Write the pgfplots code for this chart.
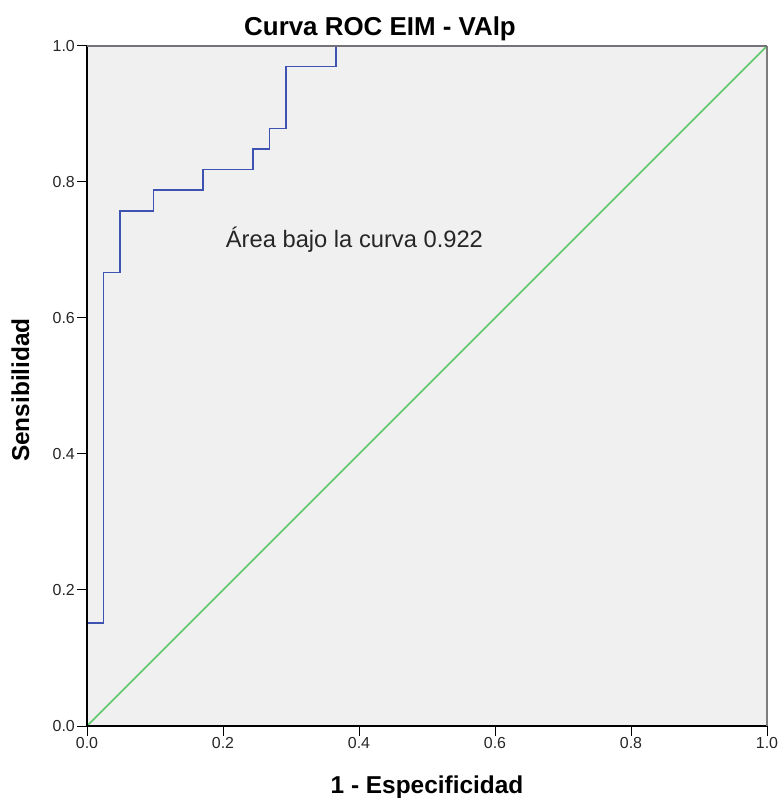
\documentclass[border=0pt]{standalone}
\usepackage{pgfplots}
\pgfplotsset{compat=1.18}
\usepackage{fontspec}
\setmainfont{Liberation Sans}
\definecolor{rocblue}{RGB}{62,82,178}
\definecolor{refgreen}{RGB}{95,200,105}
\definecolor{plotbg}{RGB}{240,240,240}
\definecolor{frametop}{RGB}{115,115,120}
\definecolor{frameright}{RGB}{125,125,125}
\begin{document}
\begin{tikzpicture}
\useasboundingbox (-87bp,-72bp) rectangle (691bp,726bp);
\begin{axis}[
  scale only axis,
  width=680bp, height=680bp,
  at={(0,0)}, anchor=south west,
  xmin=0, xmax=1, ymin=0, ymax=1,
  xtick={0,0.2,0.4,0.6,0.8,1.0},
  ytick={0,0.2,0.4,0.6,0.8,1.0},
  xtick pos=left, ytick pos=left,
  tick align=outside,
  major tick length=10bp,
  tick style={black, line width=1bp},
  axis line style={draw=none},
  axis background/.style={fill=plotbg},
  /pgf/number format/assume math mode=true,
  xticklabel={\pgfmathprintnumber[fixed,fixed zerofill,precision=1]{\tick}},
  yticklabel={\pgfmathprintnumber[fixed,fixed zerofill,precision=1]{\tick}},
  ticklabel style={font=\fontsize{16}{16}\selectfont, text=black!85},
  xticklabel style={inner sep=1bp},
  yticklabel style={inner sep=2bp},
  clip=false,
]
\addplot[refgreen, line width=1.6bp] coordinates {(0,0) (1,1)};
\addplot[rocblue, line width=1.6bp] coordinates {
  (0,0) (0,0.1515)
  (0.0244,0.1515) (0.0244,0.6667)
  (0.0488,0.6667) (0.0488,0.7576)
  (0.0976,0.7576) (0.0976,0.7879)
  (0.1707,0.7879) (0.1707,0.8182)
  (0.2439,0.8182) (0.2439,0.8485)
  (0.2683,0.8485) (0.2683,0.8788)
  (0.2927,0.8788) (0.2927,0.9697)
  (0.3659,0.9697) (0.3659,1.0)
  (1,1)
};
\draw[black, line width=1.2bp] (rel axis cs:0,0) -- (rel axis cs:0,1);
\draw[black, line width=1.2bp] (rel axis cs:0,0) -- (rel axis cs:1,0);
\draw[frameright, line width=1.8bp] (rel axis cs:1,0) -- (rel axis cs:1,1);
\draw[frametop, line width=2.4bp] (rel axis cs:0,1) -- (rel axis cs:1,1);
\node[anchor=base west, inner sep=0pt, font=\fontsize{23.8}{23.8}\selectfont, text=black!85] at (axis cs:0.204,0.703) {Área bajo la curva 0.922};
\end{axis}
\node[anchor=base, inner sep=0pt, font=\bfseries\fontsize{26}{26}\selectfont] at (293bp,690bp) {Curva ROC EIM - VAlp};
\node[anchor=base, inner sep=0pt, font=\bfseries\fontsize{24.5}{24.5}\selectfont] at (340bp,-67bp) {1 - Especificidad};
\node[rotate=90, anchor=center, inner sep=0pt, font=\bfseries\fontsize{24.5}{24.5}\selectfont] at (-66.5bp,336bp) {Sensibilidad};
\end{tikzpicture}
\end{document}
